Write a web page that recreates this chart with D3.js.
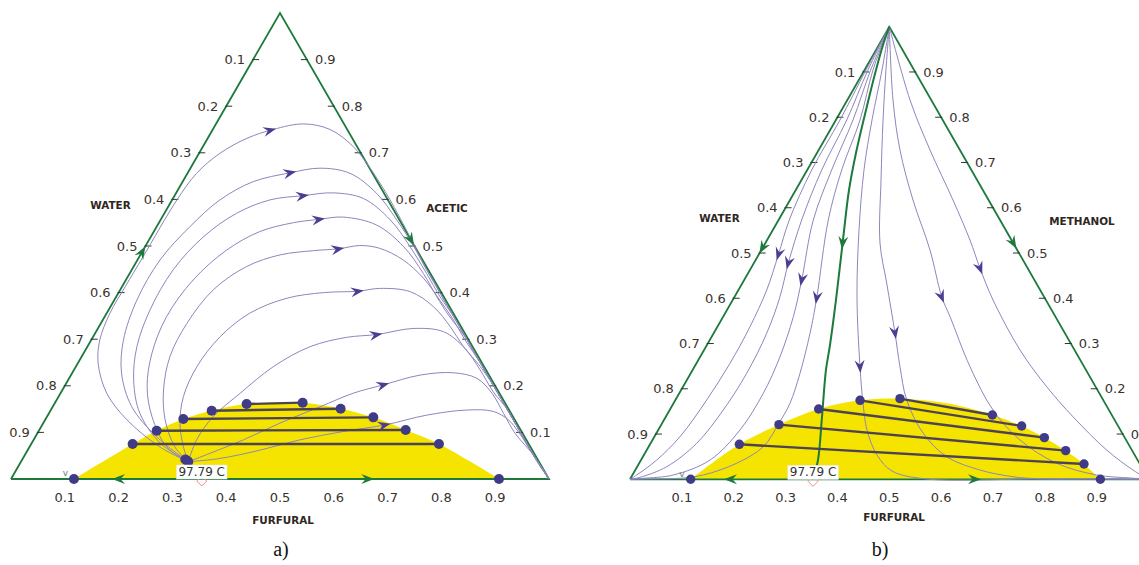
<!DOCTYPE html>
<html>
<head>
<meta charset="utf-8">
<script src="https://cdn.jsdelivr.net/npm/d3@7"></script>
<style>
	body { margin: 0; background: #fff; }
	svg { display: block; }
	.tick_label { font-family: "DejaVu Sans", Verdana, sans-serif; font-size: 13px; fill: #3b322c; }
	.axis_title { font-family: "DejaVu Sans", Verdana, sans-serif; font-size: 10.4px; font-weight: bold; fill: #2e2620; }
	.panel_title { font-family: "Liberation Serif", "Times New Roman", serif; font-size: 20px; fill: #111; }
	.azeo_text { font-family: "DejaVu Sans", Verdana, sans-serif; font-size: 12px; fill: #333; }
</style>
</head>
<body>
<svg id="chart" width="1139" height="565"></svg>
<script>
// every composition is [furfural, light component]; water = 1 - sum
var tickValues = [0.1, 0.2, 0.3, 0.4, 0.5, 0.6, 0.7, 0.8, 0.9];

// ---- panel a) water / acetic / furfural ----
var curvesA = [
	[[.311,.037],[.242,.069],[.152,.127],[.086,.184],[.038,.248],[.016,.298],[.006,.356],[.006,.413],[.007,.477],[.009,.599],[.017,.656],[.039,.699],[.073,.731],[.112,.750],[.163,.762],[.218,.750],[.280,.713],[.346,.656],[.405,.599],[.468,.534],[.515,.484]],
	[[.311,.037],[.225,.091],[.147,.155],[.092,.227],[.060,.298],[.042,.384],[.042,.470],[.062,.542],[.089,.599],[.131,.638],[.190,.657],[.241,.667],[.302,.656],[.373,.613],[.439,.556],[.499,.499],[.548,.449],[.578,.420]],
	[[.311,.037],[.239,.077],[.169,.141],[.122,.212],[.092,.284],[.077,.363],[.077,.449],[.098,.520],[.134,.570],[.182,.599],[.239,.608],[.292,.614],[.354,.602],[.427,.556],[.492,.499],[.552,.441],[.602,.391]],
	[[.311,.037],[.255,.069],[.195,.134],[.154,.198],[.127,.270],[.115,.348],[.125,.427],[.155,.491],[.197,.531],[.250,.550],[.293,.557],[.337,.562],[.407,.545],[.480,.499],[.546,.441],[.596,.391],[.637,.352]],
	[[.311,.037],[.270,.069],[.223,.127],[.188,.191],[.164,.263],[.160,.334],[.173,.406],[.210,.456],[.260,.481],[.317,.490],[.362,.494],[.398,.501],[.438,.495],[.494,.470],[.551,.431],[.605,.384],[.652,.341],[.695,.298]],
	[[.311,.037],[.286,.069],[.254,.120],[.232,.177],[.225,.241],[.236,.305],[.266,.356],[.319,.388],[.381,.400],[.444,.403],[.481,.409],[.541,.402],[.600,.370],[.653,.327],[.699,.284],[.752,.241]],
	[[.311,.037],[.303,.084],[.309,.134],[.334,.184],[.367,.241],[.414,.284],[.472,.304],[.525,.310],[.586,.323],[.646,.316],[.704,.280],[.755,.234],[.803,.187]],
	[[.311,.037],[.342,.055],[.390,.084],[.440,.120],[.497,.155],[.544,.184],[.591,.202],[.649,.223],[.708,.228],[.758,.216],[.802,.184],[.845,.141],[.888,.098]],
	[[.311,.037],[.366,.044],[.432,.062],[.495,.084],[.567,.102],[.637,.116],[.704,.137],[.773,.148],[.824,.145],[.861,.127],[.896,.098],[.970,.027]]
];
var edgeTailA = [[.548,.449],[.597,.40],[.647,.35],[.697,.30],[.747,.25],[.797,.20],[.847,.15],[.897,.10],[.947,.05],[1,0]];
var arrowsA = [[.108,.748],[.190,.657],[.239,.608],[.293,.557],[.362,.494],[.444,.403],[.525,.310],[.591,.202],[.637,.116]];
var tieLeftA = [[.1885,.0751],[.2189,.1037],[.2559,.1288],[.2997,.1466],[.3575,.1609]];
var tieRightA = [[.7579,.0751],[.6810,.1052],[.6073,.1323],[.5373,.1509],[.4602,.1638]];
var binodalA = [[.117,0],[.1885,.0751],[.2189,.1037],[.2559,.1288],[.2997,.1466],[.3575,.1609],[.4602,.1638],[.5373,.1509],[.6073,.1323],[.6810,.1052],[.7579,.0751],[.9077,0]];
var nodeDotsA = [[.303,.042],[.308,.039],[.311,.037]];
var edgeArrowsA = [{at:[0,.488], to:[0,1]}, {at:[.487,.513], to:[1,0]}, {at:[.199,0], to:[0,0]}, {at:[.664,0], to:[1,0]}];
var azeoA = [.3545, 0];

// ---- panel b) water / methanol / furfural ----
var curvesB = [
	[[0,1],[.0029,.9043],[.0080,.7939],[.0087,.6834],[.0207,.5729],[.0382,.4956],[.0545,.4183],[.0628,.3372],[.0647,.2563],[.0603,.1752],[.0493,.0941],[.0302,.0426],[.0081,.0095],[0,0]],
	[[0,1],[.0067,.9043],[.0210,.7939],[.0280,.6834],[.0446,.5729],[.0666,.4772],[.0875,.4034],[.1023,.3226],[.1079,.2342],[.1033,.1531],[.0888,.0795],[.0569,.0278],[.0171,.0044],[0,0]],
	[[0,1],[.0119,.9043],[.0331,.7939],[.0472,.6834],[.0670,.5729],[.1109,.4403],[.1353,.3593],[.1538,.2709],[.1620,.1900],[.1576,.1089],[.1330,.0426],[.0787,.0095],[.0245,.0022],[0,0]],
	[[0,1],[.0164,.9043],[.0466,.7939],[.0665,.6834],[.0959,.5729],[.1600,.3999],[.1858,.3226],[.2107,.2342],[.2245,.1679],[.2252,.1215],[.2210,.0720],[.1880,.0354],[.1365,.0095],[.0953,.0022],[.050,.001],[0,0]],
	[[0,1],[.0338,.9043],[.0697,.7939],[.1095,.6834],[.1662,.5508],[.2360,.4034],[.3191,.2488],[.3650,.1686],[.4025,.1089],[.4494,.0537],[.4960,.0183],[.569,.001],[.80,.001],[1,0]],
	[[0,1],[.0414,.9043],[.0910,.7939],[.1534,.6613],[.2210,.5221],[.2781,.4337],[.3494,.3232],[.3962,.2488],[.4460,.1752],[.5139,.1023],[.5857,.0499],[.6646,.0205],[.7356,.0057],[.7906,.001],[.90,.001],[1,0]],
	[[0,1],[.0881,.8381],[.1568,.7276],[.2371,.6171],[.3252,.5066],[.3993,.4034],[.4375,.3593],[.5312,.2488],[.6234,.1531],[.7086,.0868],[.8051,.0354],[.8951,.0095],[.9627,.0029],[1,0]],
	[[0,1],[.1209,.8381],[.2147,.7276],[.3142,.6171],[.3912,.5287],[.4418,.4662],[.5019,.3962],[.6092,.2857],[.7012,.2046],[.7850,.1383],[.8868,.0647],[.9596,.0205],[1,0]]
];
var arrowsB = [[.0382,.4956],[.0666,.4772],[.1109,.4403],[.1600,.3999],[.3191,.2488],[.3494,.3232],[.3993,.4034],[.4418,.4662]];
var separatrixB = [[0,1],[.0081,.9596],[.0222,.9043],[.0471,.8160],[.0753,.7209],[.1027,.6392],[.1463,.5287],[.1991,.3962],[.2373,.2967],[.2571,.2415],[.3014,.1376],[.3412,.0426],[.3529,0]];
var sepArrowB = [.1452,.5221];
var tieLeftB = [[.1722,.0773],[.2269,.1207],[.2861,.1553],[.3563,.1745],[.4315,.1782]];
var tieRightB = [[.8585,.0338],[.8085,.0633],[.7530,.0920],[.6963,.1178],[.6277,.1421]];
var binodalB = [[.117,0],[.1722,.0773],[.2269,.1207],[.2861,.1553],[.3563,.1745],[.4315,.1782],[.527,.168],[.6277,.1421],[.6963,.1178],[.7530,.0920],[.8085,.0633],[.8585,.0338],[.9063,0]];
var edgeArrowsB = [{at:[0,.5104], to:[0,0]}, {at:[.4786,.5214], to:[1,0]}, {at:[.1928,0], to:[0,0]}, {at:[.6653,0], to:[1,0]}];
var azeoB = [.353, 0];

var plaitEnds = [[.117,0],[.907,0]];
var vMarks = [[.098,.006],[.097,.006]];

var green = "#1d7a3c", curveColor = "#8d86bb", arrowColor = "#4b3e92",
	tieColor = "#4e4352", dotColor = "#3f3b86", yellow = "#f5e400";
var arrowShape = "M0,0L-13,-5L-8.5,0L-13,5Z";

var svg = d3.select("#chart");
svg.append("rect").attr("width", 1139).attr("height", 565).attr("fill", "#fff");

function drawPanel(cfg) {
	var g = svg.append("g");
	var sx = d3.scaleLinear().domain([0, 1]).range([cfg.left, cfg.right]);
	var sy = d3.scaleLinear().domain([0, 1]).range([cfg.bottom, cfg.top]);
	var px = function(d) { return sx(d[0] + d[1] / 2); };
	var py = function(d) { return sy(d[1]); };
	var line = d3.line().x(px).y(py).curve(d3.curveCatmullRom.alpha(0.5));
	var straight = d3.line().x(px).y(py);

	// two liquid region
	g.append("path").attr("d", line(cfg.binodal) + "Z").attr("fill", yellow);

	// triangle edges
	g.append("path").attr("d", straight([[0,0],[1,0],[0,1],[0,0]]))
		.attr("fill", "none").attr("stroke", green).attr("stroke-width", 1.8);

	// ticks and labels
	tickValues.forEach(function(t) {
		var lp = [0, 1 - t], rp = [1 - t, t], bp = [t, 0];
		g.append("line").attr("x1", px(lp) - 1).attr("x2", px(lp) + 6).attr("y1", py(lp)).attr("y2", py(lp))
			.attr("stroke", "#333").attr("stroke-width", 1);
		g.append("line").attr("x1", px(rp) - 6).attr("x2", px(rp) + 1).attr("y1", py(rp)).attr("y2", py(rp))
			.attr("stroke", "#333").attr("stroke-width", 1);
		g.append("text").attr("class", "tick_label").attr("x", px(lp) - 8).attr("y", py(lp)).attr("dy", "0.36em")
			.attr("text-anchor", "end").text(d3.format(".1f")(t));
		g.append("text").attr("class", "tick_label").attr("x", px(rp) + 8).attr("y", py(rp)).attr("dy", "0.36em")
			.text(d3.format(".1f")(t));
		g.append("text").attr("class", "tick_label").attr("x", px(bp)).attr("y", py(bp) + 22.5)
			.attr("text-anchor", "middle").text(d3.format(".1f")(t));
	});

	// residue curves
	var curveNodes = [];
	cfg.curves.forEach(function(c) {
		var last = c[c.length - 1];
		var pts = cfg.tail ? c.concat(cfg.tail.filter(function(p) { return p[1] < last[1] - 0.015; })) : c;
		var p = g.append("path").attr("d", line(pts)).attr("fill", "none")
			.attr("stroke", curveColor).attr("stroke-width", 1);
		curveNodes.push(p.node());
	});

	var sep = null;
	if (cfg.separatrix) {
		sep = g.append("path").attr("d", line(cfg.separatrix)).attr("fill", "none")
			.attr("stroke", green).attr("stroke-width", 2).node();
	}

	// tie lines
	cfg.tieLeft.forEach(function(l, i) {
		var r = cfg.tieRight[i];
		g.append("line").attr("x1", px(l)).attr("y1", py(l)).attr("x2", px(r)).attr("y2", py(r))
			.attr("stroke", tieColor).attr("stroke-width", 2.4);
	});
	var dots = cfg.tieLeft.concat(cfg.tieRight, plaitEnds, cfg.nodeDots || []);
	g.selectAll("circle.dot").data(dots).enter().append("circle").attr("class", "dot")
		.attr("cx", px).attr("cy", py).attr("r", cfg.dotR).attr("fill", dotColor);

	// arrows on curves
	function arrowOnPath(node, target, color) {
		var len = node.getTotalLength(), best = 0, bd = Infinity;
		var tx = px(target), ty = py(target);
		for (var l = 0; l <= len; l += 1) {
			var q = node.getPointAtLength(l);
			var d = (q.x - tx) * (q.x - tx) + (q.y - ty) * (q.y - ty);
			if (d < bd) { bd = d; best = l; }
		}
		var tip = Math.min(len, best + 6);
		var p0 = node.getPointAtLength(Math.max(0, tip - 3)), p1 = node.getPointAtLength(Math.min(len, tip + 1));
		var ang = Math.atan2(p1.y - p0.y, p1.x - p0.x) * 180 / Math.PI;
		var pt = node.getPointAtLength(tip);
		g.append("path").attr("d", arrowShape).attr("fill", color)
			.attr("transform", "translate(" + pt.x + "," + pt.y + ") rotate(" + ang + ")");
	}
	cfg.arrows.forEach(function(a, i) { arrowOnPath(curveNodes[i], a, arrowColor); });
	if (sep) arrowOnPath(sep, cfg.sepArrow, green);

	cfg.edgeArrows.forEach(function(e) {
		var ang = Math.atan2(py(e.to) - py(e.at), px(e.to) - px(e.at)) * 180 / Math.PI;
		var r = ang * Math.PI / 180;
		g.append("path").attr("d", arrowShape).attr("fill", green)
			.attr("transform", "translate(" + (px(e.at) + 6 * Math.cos(r)) + "," + (py(e.at) + 6 * Math.sin(r)) + ") rotate(" + ang + ")");
	});

	// small v mark near water end of the binodal
	g.append("text").attr("x", px(cfg.vMark)).attr("y", py(cfg.vMark)).attr("text-anchor", "middle")
		.style("font-family", "DejaVu Sans, sans-serif").style("font-size", "9px").attr("fill", "#777").text("v");

	// azeotrope marker and label
	var ax = px(cfg.azeo), ay = py(cfg.azeo);
	g.append("path").attr("d", "M0,-5L5,0L0,5L-5,0Z").attr("fill", "none").attr("stroke", "#f08a8a")
		.attr("stroke-width", 1).attr("transform", "translate(" + ax + "," + (ay + 2) + ")");
	var lbl = g.append("text").attr("class", "azeo_text").attr("x", ax).attr("y", ay - 3.5)
		.attr("text-anchor", "middle").text("97.79 C");
	var bb = lbl.node().getBBox();
	g.insert("rect", function() { return lbl.node(); })
		.attr("x", bb.x - 2).attr("y", ay - 14).attr("width", bb.width + 4).attr("height", 14)
		.attr("fill", "#fff").attr("stroke", "#e4e4e4").attr("stroke-width", 0.6);

	// titles
	cfg.titles.forEach(function(t) {
		g.append("text").attr("class", "axis_title").attr("x", t.x).attr("y", t.y)
			.attr("text-anchor", "middle").text(t.text);
	});
	g.append("text").attr("class", "panel_title").attr("x", cfg.panel.x).attr("y", 556)
		.attr("text-anchor", "middle").text(cfg.panel.text);
}

drawPanel({
	left: 11, right: 549, bottom: 479, top: 13,
	curves: curvesA, tail: edgeTailA, arrows: arrowsA,
	tieLeft: tieLeftA, tieRight: tieRightA, binodal: binodalA, nodeDots: nodeDotsA,
	edgeArrows: edgeArrowsA, azeo: azeoA, vMark: vMarks[0], dotR: 5,
	titles: [{text: "WATER", x: 110.5, y: 209}, {text: "ACETIC", x: 447, y: 212}, {text: "FURFURAL", x: 283, y: 524}],
	panel: {text: "a)", x: 281}
});

drawPanel({
	left: 630, right: 1148.6, bottom: 479.3, top: 26.7,
	curves: curvesB, arrows: arrowsB, separatrix: separatrixB, sepArrow: sepArrowB,
	tieLeft: tieLeftB, tieRight: tieRightB, binodal: binodalB,
	edgeArrows: edgeArrowsB, azeo: azeoB, vMark: vMarks[1], dotR: 4.7,
	titles: [{text: "WATER", x: 719.5, y: 222}, {text: "METHANOL", x: 1082, y: 225}, {text: "FURFURAL", x: 894, y: 520.5}],
	panel: {text: "b)", x: 880}
});
</script>
</body>
</html>
